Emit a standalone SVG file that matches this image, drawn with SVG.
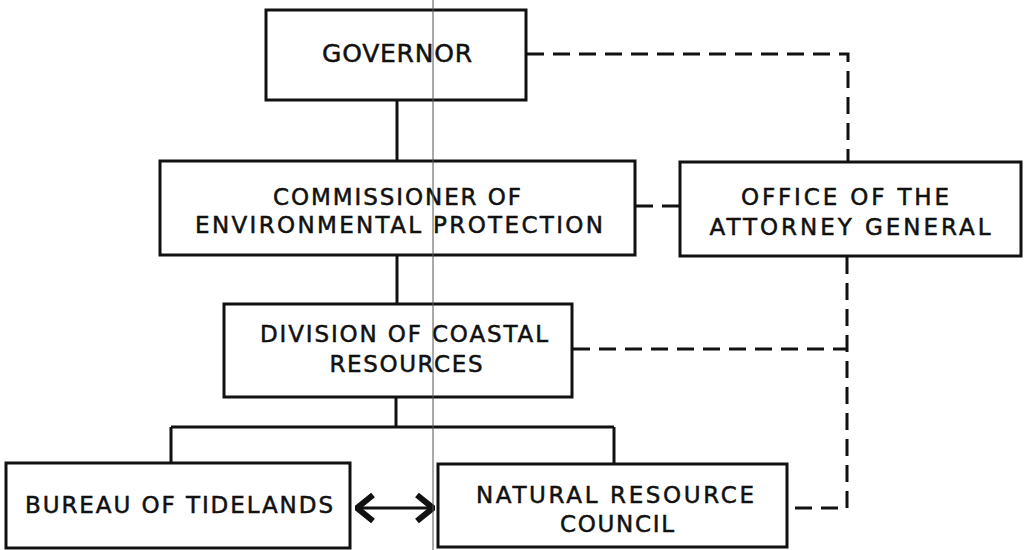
<svg xmlns="http://www.w3.org/2000/svg" width="1032" height="550" viewBox="0 0 1032 550">
<defs>
<style>
.box{fill:#fff;stroke:#111;stroke-width:3}
.t{font-family:"DejaVu Sans","Liberation Sans",Arial,sans-serif;font-size:23px;fill:#111;text-anchor:middle;stroke:#111;stroke-width:0.5}
.solid{fill:none;stroke:#111;stroke-width:3}
.dash{fill:none;stroke:#111;stroke-width:3;stroke-dasharray:17 9}
</style>
<marker id="chev" viewBox="-20 -16 22 32" refX="0" refY="0" markerWidth="22" markerHeight="32" markerUnits="userSpaceOnUse" orient="auto-start-reverse">
<path d="M-16,-13 L0,0 L-16,13" fill="none" stroke="#111" stroke-width="6" stroke-linejoin="miter"/>
</marker>
</defs>
<rect width="1032" height="550" fill="#fff"/>
<g id="connectors">
<path class="solid" d="M397,100 V161"/>
<path class="solid" d="M397,255 V304"/>
<path class="solid" d="M396,397 V427 M171,427 H614 M171,427 V463 M614,427 V463"/>
<path class="dash" d="M527,54 H848 V162"/>
<path class="dash" d="M636,206 H680"/>
<path class="dash" d="M847,257 V508 H788"/>
<path class="dash" d="M573,349 H847"/>
<path d="M357,508 H433" fill="none" stroke="#111" stroke-width="3" marker-start="url(#chev)" marker-end="url(#chev)"/>
</g>
<g id="governor">
<rect class="box" x="266" y="10" width="260" height="90"/>
<text class="t" x="397" y="62" style="font-size:25px" textLength="150" lengthAdjust="spacing">GOVERNOR</text>
</g>
<g id="commissioner">
<rect class="box" x="160" y="161" width="475" height="94"/>
<text class="t" x="397" y="205" textLength="248" lengthAdjust="spacing">COMMISSIONER OF</text>
<text class="t" x="399" y="233" textLength="408" lengthAdjust="spacing">ENVIRONMENTAL PROTECTION</text>
</g>
<g id="attorney-general">
<rect class="box" x="680" y="162" width="341" height="94"/>
<text class="t" x="845" y="205" textLength="208" lengthAdjust="spacing">OFFICE OF THE</text>
<text class="t" x="850" y="235" textLength="281" lengthAdjust="spacing">ATTORNEY GENERAL</text>
</g>
<g id="division">
<rect class="box" x="224" y="304" width="348" height="93"/>
<text class="t" x="404" y="342" textLength="288" lengthAdjust="spacing">DIVISION OF COASTAL</text>
<text class="t" x="406" y="372" textLength="153" lengthAdjust="spacing">RESOURCES</text>
</g>
<g id="bureau">
<rect class="box" x="6" y="463" width="344" height="85"/>
<text class="t" x="179" y="513" textLength="308" lengthAdjust="spacing">BUREAU OF TIDELANDS</text>
</g>
<g id="nrc">
<rect class="box" x="438" y="464" width="349" height="83"/>
<text class="t" x="615" y="503" textLength="278" lengthAdjust="spacing">NATURAL RESOURCE</text>
<text class="t" x="617" y="532" textLength="114" lengthAdjust="spacing">COUNCIL</text>
</g>
<line x1="433" y1="0" x2="433" y2="550" stroke="#555" stroke-width="1"/>
</svg>
